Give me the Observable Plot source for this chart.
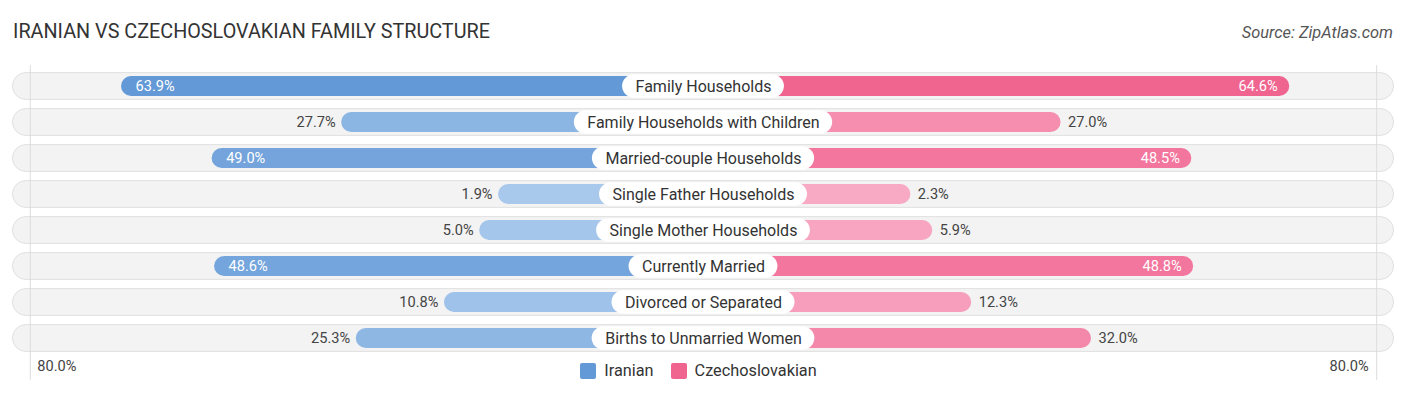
<!DOCTYPE html>
<html>
<head>
<meta charset="utf-8">
<script src="https://cdn.jsdelivr.net/npm/d3@7"></script>
<script src="https://cdn.jsdelivr.net/npm/@observablehq/plot@0.6"></script>
<style>
  html, body { margin: 0; padding: 0; background: #fff; }
  #wrap { position: relative; width: 1406px; height: 395px; font-family: Roboto, "Noto Sans", sans-serif; }
  #title { position: absolute; left: 13px; top: 20px; font-size: 19.8px; color: #333; white-space: nowrap; }
  #source { position: absolute; right: 13px; top: 23px; font-size: 16.4px; font-style: italic; color: #555; white-space: nowrap; }
  #chart { position: absolute; left: 0; top: 55px; }
  #legend { position: absolute; top: 361px; left: 0; width: 1406px; box-sizing: border-box; padding-right: 9px; display: flex; justify-content: center; align-items: center; font-size: 16.3px; color: #333; }
  .item { display: flex; align-items: center; margin: 0 8.5px; }
  .sw { width: 16px; height: 16px; border-radius: 2px; margin-right: 8px; }
</style>
</head>
<body>
<div id="wrap">
  <div id="title">IRANIAN VS CZECHOSLOVAKIAN FAMILY STRUCTURE</div>
  <div id="source">Source: ZipAtlas.com</div>
  <div id="chart"></div>
  <div id="legend"></div>
</div>
<script>
// ---- data ----
const categories = [
  "Family Households",
  "Family Households with Children",
  "Married-couple Households",
  "Single Father Households",
  "Single Mother Households",
  "Currently Married",
  "Divorced or Separated",
  "Births to Unmarried Women"
];
const iranian = [63.9, 27.7, 49.0, 1.9, 5.0, 48.6, 10.8, 25.3];
const czechoslovakian = [64.6, 27.0, 48.5, 2.3, 5.9, 48.8, 12.3, 32.0];
const seriesNames = ["Iranian", "Czechoslovakian"];
const axisMaxLabel = 80.0;

// ---- layout constants ----
const W = 1406, H = 340;
const xMax = 115.6;          // half-width of x domain (in % units incl. offset)
const offset = 31.8;         // bars start behind the centre label
const pillHalf = 113.55;     // background pill half width
const gridPos = 110.7;       // faint reference lines
const pxPerUnit = W / (2 * xMax);
const insideThreshold = 40;

const blueScale = d3.scaleLinear().domain([0, 64]).range(["#aacaed", "#6399d6"]).interpolate(d3.interpolateRgb).clamp(true);
const pinkScale = d3.scaleLinear().domain([0, 64.6]).range(["#f8acc6", "#f06490"]).interpolate(d3.interpolateRgb).clamp(true);

const rows = categories.map((c, i) => ({cat: c, left: iranian[i], right: czechoslovakian[i]}));

// measure label text widths
const ctx = document.createElement("canvas").getContext("2d");
ctx.font = "16px Roboto";
const labelW = c => (ctx.measureText(c).width + 26) / pxPerUnit;

const fmt = v => v.toFixed(1) + "%";

const yOpts = {type: "band", domain: categories, range: [12.4, 302.1], padding: 0, axis: null};

const plot = Plot.plot({
  width: W, height: H,
  marginTop: 0, marginBottom: 0, marginLeft: 0, marginRight: 0,
  x: {domain: [-xMax, xMax], axis: null},
  y: yOpts,
  color: {type: "identity"},
  style: {fontFamily: "Roboto, 'Noto Sans', sans-serif", background: "transparent"},
  marks: [
    // background pills
    Plot.barX(rows, {x1: -pillHalf, x2: pillHalf, y: "cat", fill: "#f3f3f3", stroke: "#e0e0e0", strokeWidth: 1, rx: 13.5, insetTop: 4.6, insetBottom: 4.6}),
    // reference lines
    Plot.ruleX([-gridPos, gridPos], {stroke: "#dcdcdc", strokeWidth: 1, insetTop: 10, insetBottom: 15}),
    // bars
    Plot.barX(rows, {x1: 0, x2: d => -(offset + d.left), y: "cat", fill: d => blueScale(d.left), rx: 10, insetTop: 8.1, insetBottom: 8.1}),
    Plot.barX(rows, {x1: 0, x2: d => offset + d.right, y: "cat", fill: d => pinkScale(d.right), rx: 10, insetTop: 8.1, insetBottom: 8.1}),
    // value labels - left
    Plot.text(rows.filter(d => d.left >= insideThreshold), {x: d => -(offset + d.left), y: "cat", text: d => fmt(d.left), textAnchor: "start", dx: 14, fill: "white", fontSize: 14.6}),
    Plot.text(rows.filter(d => d.left < insideThreshold), {x: d => -(offset + d.left), y: "cat", text: d => fmt(d.left), textAnchor: "end", dx: -6, fill: "#444", fontSize: 14.6}),
    // value labels - right
    Plot.text(rows.filter(d => d.right >= insideThreshold), {x: d => offset + d.right, y: "cat", text: d => fmt(d.right), textAnchor: "end", dx: -12, fill: "white", fontSize: 14.6}),
    Plot.text(rows.filter(d => d.right < insideThreshold), {x: d => offset + d.right, y: "cat", text: d => fmt(d.right), textAnchor: "start", dx: 7, fill: "#444", fontSize: 14.6}),
    // centre label pills
    Plot.barX(rows, {x1: d => -labelW(d.cat) / 2, x2: d => labelW(d.cat) / 2, y: "cat", fill: "white", rx: 12, insetTop: 6.3, insetBottom: 6.3}),
    Plot.text(rows, {x: 0, y: "cat", text: "cat", fill: "#333", fontSize: 16}),
    // axis end labels
    Plot.text([-gridPos], {x: d => d, frameAnchor: "bottom", dy: -25, text: () => fmt(axisMaxLabel), textAnchor: "start", dx: 7, fill: "#444", fontSize: 14.6}),
    Plot.text([gridPos], {x: d => d, frameAnchor: "bottom", dy: -25, text: () => fmt(axisMaxLabel), textAnchor: "end", dx: -8, fill: "#444", fontSize: 14.6})
  ]
});
document.getElementById("chart").appendChild(plot);

// legend
const legend = document.getElementById("legend");
[["Iranian", "#6399d6"], ["Czechoslovakian", "#f06490"]].forEach(([name, col], i) => {
  const it = document.createElement("div");
  it.className = "item";
  const sw = document.createElement("div");
  sw.className = "sw";
  sw.style.background = col;
  const tx = document.createElement("span");
  tx.textContent = seriesNames[i];
  it.appendChild(sw); it.appendChild(tx);
  legend.appendChild(it);
});
</script>
</body>
</html>
